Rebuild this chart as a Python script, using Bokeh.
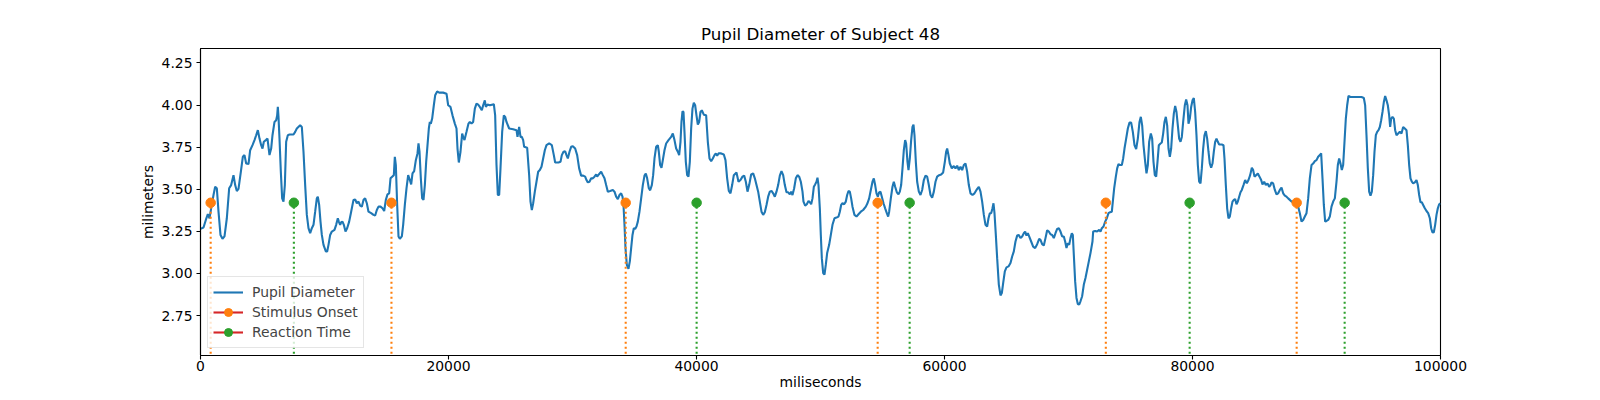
from bokeh.plotting import figure
from bokeh.models import Range1d, FixedTicker, NumeralTickFormatter, Legend, LegendItem
from bokeh.embed import file_html
from bokeh.resources import INLINE

# pupil trace (ms, mm)
time_ms = [
    0, 242, 430, 592, 726, 860, 1049, 1183, 1317, 1452, 1613, 1774, 1936, 2124, 2312, 2473,
    2661, 2796, 2930, 3065, 3253, 3414, 3548, 3683, 3871, 4005, 4194, 4355, 4489, 4624, 4758,
    4892, 5000, 5107, 5269, 5403, 5564, 5699, 5806, 5968, 6102, 6183, 6236, 6290, 6371, 6478,
    6586, 6693, 6801, 6908, 7043, 7177, 7500, 7634, 7769, 8037, 8172, 8306, 8441, 8575, 8709,
    8844, 8978, 9113, 9247, 9381, 9462, 9570, 9677, 9785, 9919, 10107, 10215, 10322, 10457,
    10591, 10806, 10940, 11075, 11155, 11263, 11344, 11451, 11559, 11693, 11827, 11989, 12150,
    12338, 12473, 12607, 12741, 12876, 13010, 13145, 13279, 13413, 13548, 13763, 13951, 14085,
    14220, 14354, 14515,
    14678, 14812, 14947, 15081, 15215, 15323, 15457, 15592, 15672, 15753, 15861, 15968, 16076,
    16237, 16344, 16479, 16613, 16748, 16882, 16990, 17097, 17231, 17366, 17500, 17581, 17662,
    17769, 17877, 17984, 18092, 18199, 18307, 18414, 18495, 18575, 18683, 18817, 18925, 19086,
    19247, 19570, 19839, 19973, 20161, 20323, 20511, 20645, 20726, 20833, 20968, 21102, 21183,
    21290, 21452, 21613, 21720, 21855, 21989, 22124, 22258, 22392, 22527, 22688, 22796, 22930,
    23011, 23145, 23333, 23656, 23763, 23871, 23978, 24086, 24193, 24328, 24462, 24570, 24677,
    24892, 25215, 25484, 25564, 25699, 25806, 25914, 26021, 26102, 26344, 26505, 26613, 26720,
    26828, 26962, 27096, 27231, 27365, 27500, 27634, 27768, 27903, 28118, 28333, 28494, 28602,
    28871,
    29032, 29139, 29274, 29408, 29516, 29623, 29758, 29892, 30026, 30215, 30376, 30537, 30698,
    30860, 31021, 31128, 31236, 31370, 31505, 31639, 31774, 31908, 31989, 32123, 32311, 32446,
    32580, 32714, 32849, 33037, 33252, 33386, 33521, 33655, 33790, 33924, 34032, 34112, 34193,
    34273, 34381, 34515, 34623, 34730, 34838, 34945, 35053, 35160, 35268, 35402, 35537, 35671,
    35806, 35913, 36020, 36155, 36263, 36397, 36504, 36612, 36746, 36881, 36961, 37069, 37176,
    37284, 37418, 37553, 37741, 37956, 38090, 38225, 38359, 38494, 38601, 38709, 38789, 38870,
    38951, 39031, 39139, 39246, 39354, 39461, 39569, 39676, 39784, 39891, 39999, 40106, 40214,
    40321, 40429, 40590, 40778, 40913, 41047, 41182, 41316, 41450, 41558, 41665, 41773, 41988,
    42203, 42337, 42472, 42606, 42741, 42875, 43009, 43224,
    43387, 43548, 43709, 43844, 43978, 44113, 44247, 44408, 44570, 44704, 44839, 44973, 45107,
    45242, 45376, 45510, 45645, 45779, 45914, 46048, 46182, 46317, 46451, 46586, 46720, 46854,
    46989, 47123, 47258, 47392, 47526, 47634, 47741, 47876, 48010, 48145, 48279, 48413, 48548,
    48628, 48763, 48897, 49032, 49139, 49247, 49354, 49462, 49569, 49677, 49757, 49838, 49946,
    50026, 50107, 50214, 50322, 50429, 50537, 50698, 50833, 50967, 51128, 51290, 51451, 51558,
    51666, 51773, 51908, 52042, 52150, 52257, 52365, 52472, 52580, 52741, 52902, 53063, 53252,
    53440, 53655, 53789, 53924, 54058, 54193, 54300, 54408, 54515, 54623, 54730, 54838, 54945,
    55080, 55214, 55348, 55456, 55537, 55671, 55805, 55913, 56020, 56155, 56289, 56397, 56504,
    56612, 56719, 56827, 56907, 57015, 57096, 57203, 57311, 57418, 57500,
    57581, 57688, 57796, 57930, 58064, 58199, 58333, 58468, 58602, 58736, 58871, 59005, 59140,
    59274, 59408, 59570, 59731, 59892, 60027, 60134, 60215, 60322, 60430, 60591, 60752, 60887,
    61021, 61156, 61290, 61424, 61559, 61693, 61828, 61962, 62096, 62258, 62419, 62580, 62768,
    62903, 63037, 63172, 63306, 63440, 63548, 63655, 63763, 63870, 63951, 64032, 64139, 64247,
    64381, 64516, 64623, 64731, 64865, 64999, 65161, 65322, 65456, 65591, 65725, 65860, 65994,
    66128, 66263, 66397, 66505, 66612, 66720, 66827, 66989, 67150, 67311, 67472, 67634, 67741,
    67876, 68010, 68144, 68279, 68413, 68548, 68682, 68816, 68951, 69085, 69220, 69354, 69488,
    69623, 69730, 69838, 69946, 70053, 70160, 70268, 70349, 70429, 70537, 70644, 70752, 70859,
    70967, 71101, 71236, 71370, 71504, 71639, 71773, 71934,
    71989, 72151, 72312, 72473, 72581, 72688, 72823, 72957, 73091, 73226, 73360, 73495, 73575,
    73683, 73817, 73925, 74032, 74167, 74301, 74409, 74516, 74650, 74785, 74919, 75054, 75188,
    75322, 75457, 75591, 75726, 75833, 75941, 76048, 76183, 76290, 76398, 76505, 76640, 76747,
    76855, 76962, 77070, 77177, 77285, 77419, 77527, 77634, 77742, 77849, 77957, 78064, 78172,
    78279, 78387, 78494, 78602, 78709, 78817, 78924, 79032, 79139, 79247, 79381, 79489, 79596,
    79677, 79785, 79892, 80000, 80107, 80215, 80322, 80430, 80537, 80645, 80752, 80860, 80967,
    81075, 81182, 81290, 81397, 81505, 81612, 81720, 81827, 81935, 82042, 82150, 82365, 82499,
    82580, 82688, 82795, 82903, 83010, 83118, 83225, 83333, 83440, 83548, 83655, 83763, 83870,
    83978, 84112, 84247, 84381, 84515, 84650, 84784, 84892, 84999, 85134, 85268, 85402, 85537,
    85644, 85779, 85913, 86047, 86182, 86290,
    86371, 86506, 86640, 86774, 86909, 87043, 87178, 87312, 87446, 87581, 87715, 87850, 87984,
    88118, 88253, 88387, 88522, 88656, 88790, 88925, 89059, 89194, 89328, 89462, 89597, 89731,
    89866, 90000, 90134, 90269, 90376, 90484, 90591, 90699, 90806, 90941, 91075, 91210, 91344,
    91478, 91613, 91720, 91828, 91935, 92043, 92150, 92258, 92365, 92473, 92580, 92742, 93226,
    93629, 93817, 93924, 94032, 94140, 94247, 94355, 94462, 94570, 94677, 94785, 94892, 95000,
    95107, 95215, 95322, 95430, 95537, 95645, 95752, 95860, 95940, 96021, 96129, 96236, 96344,
    96451, 96586, 96720, 96854, 96989, 97123, 97258, 97365, 97473, 97580, 97688, 97795, 97930,
    98064, 98172, 98279, 98387, 98494, 98602, 98736, 98870, 99005, 99139, 99247, 99354, 99462,
    99569, 99677, 99784, 99892, 100000,
]

pupil_mm = [
    3.265, 3.273, 3.318, 3.352, 3.328, 3.387, 3.466, 3.515, 3.506, 3.367, 3.229, 3.206, 3.220,
    3.328, 3.506, 3.525, 3.584, 3.525, 3.490, 3.502, 3.604, 3.693, 3.703, 3.653, 3.650, 3.732,
    3.762, 3.792, 3.821, 3.851, 3.801, 3.762, 3.742, 3.782, 3.792, 3.801, 3.703, 3.742, 3.821,
    3.900, 3.910, 3.939, 3.989, 3.930, 3.801, 3.604, 3.446, 3.427, 3.525, 3.782, 3.821, 3.825,
    3.825, 3.841, 3.861, 3.880, 3.870, 3.723, 3.525, 3.348, 3.269, 3.239, 3.269, 3.289, 3.367,
    3.446, 3.456, 3.407, 3.308, 3.229, 3.170, 3.131, 3.131, 3.170, 3.229, 3.249, 3.259, 3.289,
    3.328, 3.308, 3.289, 3.304, 3.308, 3.289, 3.249, 3.269, 3.308, 3.367, 3.437, 3.440, 3.417,
    3.427, 3.403, 3.397, 3.437, 3.446, 3.417, 3.367, 3.358, 3.348, 3.344, 3.377, 3.397, 3.397,
    3.387, 3.371, 3.437, 3.470, 3.476, 3.565, 3.575, 3.584, 3.693, 3.644, 3.407, 3.220, 3.206,
    3.220, 3.289, 3.407, 3.506, 3.584, 3.555, 3.529, 3.594, 3.608, 3.673, 3.713, 3.772, 3.723,
    3.565, 3.446, 3.437, 3.525, 3.663, 3.762, 3.861, 3.900, 3.890, 3.920, 3.999, 4.058, 4.081,
    4.074, 4.074, 4.068, 3.999, 3.989, 3.939, 3.890, 3.861, 3.742, 3.659, 3.723, 3.831, 3.811,
    3.792, 3.841, 3.890, 3.900, 3.890, 3.900, 3.979, 4.009, 4.003, 3.989, 3.969, 3.999, 4.028,
    3.989, 4.003, 3.999, 4.005, 3.939, 3.644, 3.466, 3.466, 3.624, 3.841, 3.939, 3.930, 3.900,
    3.861, 3.857, 3.851, 3.811, 3.870, 3.811, 3.811, 3.792, 3.752, 3.746, 3.584, 3.427, 3.377,
    3.417, 3.486, 3.545, 3.604, 3.614, 3.634, 3.683, 3.732, 3.762, 3.772, 3.762, 3.703, 3.659,
    3.659,
    3.663, 3.703, 3.723, 3.726, 3.703, 3.683, 3.723, 3.752, 3.756, 3.742, 3.703, 3.624, 3.581,
    3.581, 3.575, 3.555, 3.541, 3.545, 3.565, 3.565, 3.575, 3.588, 3.575, 3.588, 3.604, 3.584,
    3.565, 3.525, 3.486, 3.490, 3.496, 3.486, 3.456, 3.442, 3.466, 3.476, 3.456, 3.407, 3.289,
    3.151, 3.052, 3.028, 3.072, 3.151, 3.229, 3.269, 3.265, 3.279, 3.308, 3.367, 3.446, 3.525,
    3.581, 3.594, 3.565, 3.506, 3.494, 3.525, 3.584, 3.683, 3.752, 3.762, 3.723, 3.644, 3.628,
    3.673, 3.732, 3.772, 3.792, 3.811, 3.831, 3.792, 3.742, 3.723, 3.703, 3.782, 3.900, 3.963,
    3.959, 3.841, 3.663, 3.584, 3.575, 3.663, 3.861, 3.979, 4.014, 3.999, 3.939, 3.884, 3.900,
    3.959, 3.969, 3.943, 3.939, 3.782, 3.683, 3.667, 3.683, 3.703, 3.713, 3.699, 3.713, 3.713,
    3.707, 3.673, 3.565, 3.490, 3.476, 3.525, 3.584, 3.600,
    3.545, 3.555, 3.575, 3.581, 3.545, 3.486, 3.525, 3.588, 3.594, 3.565, 3.525, 3.486, 3.427,
    3.367, 3.348, 3.364, 3.407, 3.456, 3.486, 3.490, 3.476, 3.456, 3.486, 3.525, 3.581, 3.608,
    3.584, 3.525, 3.482, 3.482, 3.470, 3.486, 3.466, 3.506, 3.565, 3.584, 3.575, 3.545, 3.486,
    3.427, 3.403, 3.411, 3.431, 3.423, 3.411, 3.446, 3.515, 3.529, 3.545, 3.569, 3.525, 3.387,
    3.229, 3.091, 3.003, 2.993, 3.052, 3.121, 3.170, 3.229, 3.289, 3.328, 3.332, 3.338, 3.367,
    3.407, 3.417, 3.411, 3.427, 3.466, 3.490, 3.486, 3.446, 3.397, 3.348, 3.338, 3.352, 3.367,
    3.377, 3.397, 3.417, 3.446, 3.496, 3.545, 3.565, 3.525, 3.476, 3.456, 3.482, 3.486, 3.456,
    3.417, 3.387, 3.358, 3.338, 3.367, 3.446, 3.515, 3.545, 3.515, 3.482, 3.470, 3.486, 3.525,
    3.624, 3.732, 3.792, 3.772, 3.663, 3.614, 3.683, 3.792, 3.870, 3.884,
    3.821, 3.663, 3.545, 3.486, 3.466, 3.496, 3.555, 3.581, 3.575, 3.525, 3.466, 3.450, 3.486,
    3.545, 3.575, 3.584, 3.588, 3.600, 3.663, 3.723, 3.742, 3.703, 3.653, 3.624, 3.638, 3.624,
    3.640, 3.614, 3.634, 3.614, 3.644, 3.653, 3.604, 3.525, 3.476, 3.466, 3.476, 3.496, 3.515,
    3.486, 3.427, 3.348, 3.289, 3.279, 3.328, 3.358, 3.358, 3.387, 3.417, 3.358, 3.229, 3.091,
    2.934, 2.870, 2.884, 2.943, 3.012, 3.036, 3.042, 3.062, 3.101, 3.131, 3.190, 3.225, 3.229,
    3.210, 3.220, 3.239, 3.249, 3.225, 3.239, 3.220, 3.190, 3.160, 3.151, 3.174, 3.206, 3.200,
    3.174, 3.166, 3.210, 3.257, 3.249, 3.233, 3.229, 3.210, 3.239, 3.265, 3.269, 3.249, 3.220,
    3.220, 3.190, 3.151, 3.180, 3.170, 3.210, 3.239, 3.229, 3.111, 2.953, 2.855, 2.819, 2.815,
    2.835, 2.865, 2.934, 2.973, 3.022, 3.072, 3.121, 3.190,
    3.249, 3.253, 3.249, 3.259, 3.249, 3.269, 3.279, 3.308, 3.328, 3.358, 3.364, 3.367, 3.427,
    3.506, 3.575, 3.624, 3.650, 3.644, 3.644, 3.683, 3.742, 3.801, 3.861, 3.896, 3.896, 3.841,
    3.762, 3.738, 3.801, 3.900, 3.930, 3.880, 3.762, 3.663, 3.594, 3.644, 3.782, 3.831, 3.801,
    3.663, 3.584, 3.575, 3.663, 3.762, 3.772, 3.778, 3.831, 3.900, 3.930, 3.880, 3.742, 3.693,
    3.742, 3.861, 3.949, 3.995, 3.959, 3.880, 3.801, 3.782, 3.811, 3.900, 3.999, 4.034, 3.999,
    3.890, 3.920, 3.989, 4.028, 4.042, 3.959, 3.821, 3.644, 3.545, 3.535, 3.624, 3.742, 3.821,
    3.845, 3.801, 3.723, 3.653, 3.628, 3.653, 3.723, 3.782, 3.801, 3.782, 3.766, 3.766, 3.762,
    3.683, 3.525, 3.387, 3.328, 3.338, 3.387, 3.427, 3.437, 3.442, 3.411, 3.427, 3.456, 3.482,
    3.496, 3.525, 3.555, 3.535, 3.555, 3.584, 3.628, 3.614, 3.575, 3.584, 3.594, 3.575, 3.555,
    3.529, 3.545, 3.525, 3.535, 3.515, 3.525,
    3.541, 3.535, 3.496, 3.470, 3.476, 3.496, 3.510, 3.476, 3.462, 3.456, 3.446, 3.437, 3.427,
    3.423, 3.423, 3.417, 3.397, 3.358, 3.308, 3.318, 3.338, 3.358, 3.446, 3.565, 3.644, 3.653,
    3.667, 3.673, 3.693, 3.703, 3.713, 3.565, 3.407, 3.308, 3.312, 3.318, 3.338, 3.397, 3.427,
    3.446, 3.545, 3.644, 3.683, 3.653, 3.614, 3.644, 3.782, 3.920, 3.999, 4.054, 4.048, 4.048,
    4.048, 4.042, 3.999, 3.821, 3.624, 3.486, 3.462, 3.486, 3.584, 3.723, 3.821, 3.841, 3.851,
    3.870, 3.910, 3.959, 4.018, 4.054, 4.028, 3.999, 3.939, 3.870, 3.920, 3.930, 3.920, 3.851,
    3.821, 3.831, 3.841, 3.831, 3.870, 3.861, 3.851, 3.762, 3.644, 3.565, 3.545, 3.535, 3.541,
    3.555, 3.525, 3.466, 3.423, 3.423, 3.407, 3.387, 3.371, 3.358, 3.328, 3.269, 3.243, 3.245,
    3.289, 3.348, 3.387, 3.411, 3.417,
]

onset_ms = [820, 15400, 34290, 54610, 73010, 88400]
onset_level = [3.42, 3.42, 3.42, 3.42, 3.42, 3.42]
reaction_ms = [7530, 40010, 57190, 79770, 92270]
reaction_level = [3.42, 3.42, 3.42, 3.42, 3.42]
stem_bottom = 0.0

x_ticks = [0, 20000, 40000, 60000, 80000, 100000]
y_ticks = [2.75, 3.00, 3.25, 3.50, 3.75, 4.00, 4.25]

FONT = "DejaVu Sans"
BLUE, ORANGE, GREEN, RED = "#1f77b4", "#ff7f0e", "#2ca02c", "#d62728"

p = figure(width=1584, height=392, title="Pupil Diameter of Subject 48",
           x_range=Range1d(0, 100000), y_range=Range1d(2.513, 4.336),
           output_backend="svg", toolbar_location=None,
           min_border_left=200, min_border_right=144,
           min_border_top=48, min_border_bottom=36)

p.title.align = "center"
p.title.text_font = FONT
p.title.text_font_size = "16.7px"
p.title.text_font_style = "normal"
p.title.text_color = "black"
p.title.standoff = 9

p.xgrid.visible = False
p.ygrid.visible = False
p.outline_line_color = "black"
p.outline_line_width = 1.1

for ax in (p.xaxis[0], p.yaxis[0]):
    ax.axis_line_color = "black"
    ax.axis_line_width = 1.1
    ax.major_tick_line_color = "black"
    ax.major_tick_line_width = 1.1
    ax.major_tick_in = 0
    ax.major_tick_out = 4
    ax.minor_tick_line_color = None
    ax.major_label_text_font = FONT
    ax.major_label_text_font_size = "13.9px"
    ax.major_label_text_color = "black"
    ax.axis_label_text_font = FONT
    ax.axis_label_text_font_size = "13.9px"
    ax.axis_label_text_font_style = "normal"
    ax.axis_label_text_color = "black"

p.xaxis.ticker = FixedTicker(ticks=x_ticks)
p.xaxis.formatter = NumeralTickFormatter(format="0")
p.xaxis.axis_label = "miliseconds"
p.xaxis.major_label_standoff = 1
p.xaxis.axis_label_standoff = 0

p.yaxis.ticker = FixedTicker(ticks=y_ticks)
p.yaxis.formatter = NumeralTickFormatter(format="0.00")
p.yaxis.axis_label = "milimeters"
p.yaxis.major_label_standoff = 4
p.yaxis.axis_label_standoff = 3

trace = p.line(time_ms, pupil_mm, line_color=BLUE, line_width=2.1)

# stems: dotted lines from the baseline up to the markers
onset_base = p.line([min(onset_ms), max(onset_ms)], [stem_bottom, stem_bottom],
                    line_color=RED, line_width=2.1)
p.segment(x0=onset_ms, y0=[stem_bottom] * len(onset_ms), x1=onset_ms, y1=onset_level,
          line_color=ORANGE, line_width=2.1, line_dash="2 3")
onset_dots = p.scatter(onset_ms, onset_level, size=9.5, color=ORANGE)

reaction_base = p.line([min(reaction_ms), max(reaction_ms)], [stem_bottom, stem_bottom],
                       line_color=RED, line_width=2.1)
p.segment(x0=reaction_ms, y0=[stem_bottom] * len(reaction_ms), x1=reaction_ms, y1=reaction_level,
          line_color=GREEN, line_width=2.1, line_dash="2 3")
reaction_dots = p.scatter(reaction_ms, reaction_level, size=9.5, color=GREEN)

legend = Legend(items=[
    LegendItem(label="Pupil Diameter", renderers=[trace]),
    LegendItem(label="Stimulus Onset", renderers=[onset_base, onset_dots]),
    LegendItem(label="Reaction Time", renderers=[reaction_base, reaction_dots]),
], location="bottom_left")
legend.margin = 7
legend.padding = 5
legend.spacing = 0
legend.glyph_width = 30
legend.glyph_height = 20
legend.label_height = 20
legend.label_standoff = 9
legend.label_text_font = FONT
legend.label_text_font_size = "13.9px"
legend.border_line_color = "#cccccc"
legend.border_line_width = 1
legend.background_fill_alpha = 0.8
p.add_layout(legend)

open("out.html", "w").write(file_html(p, INLINE))
